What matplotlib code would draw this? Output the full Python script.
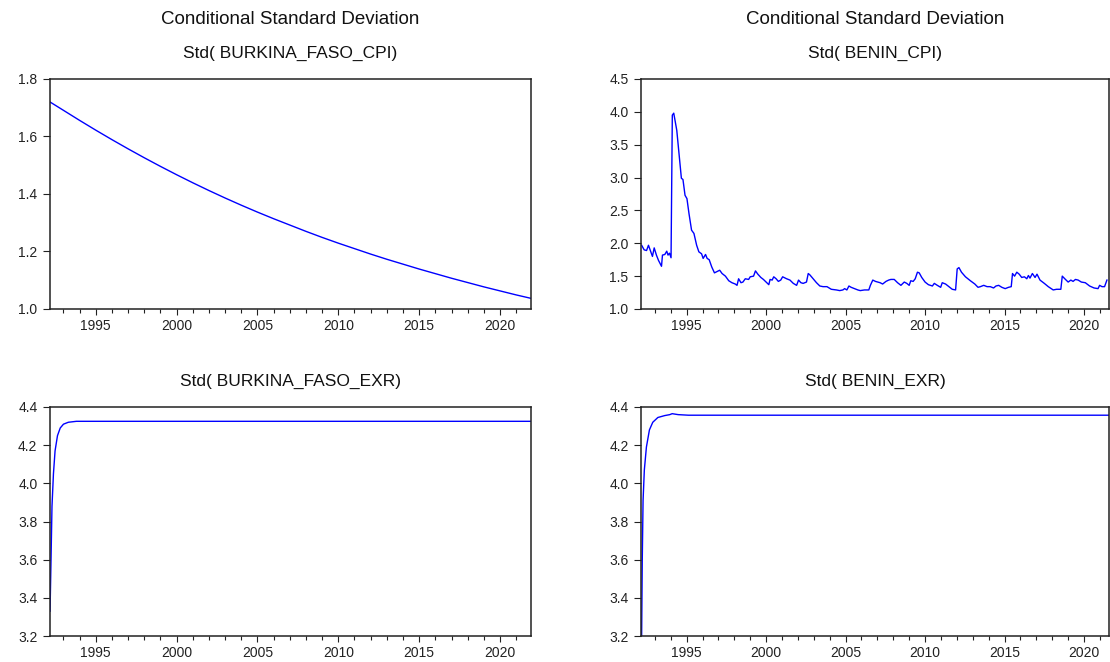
import matplotlib.pyplot as plt
from matplotlib.ticker import MultipleLocator, FormatStrFormatter

# ------------------------ #
# DATA (decimal years)
# ------------------------ #

bf_cpi_t = [1992.17, 1993, 1994, 1995, 1996, 1997, 1998, 1999, 2000, 2001,
            2002, 2003, 2004, 2005, 2006, 2007, 2008, 2009, 2010, 2011,
            2012, 2013, 2014, 2015, 2016, 2017, 2018, 2019, 2020, 2021, 2021.92]
bf_cpi = [1.72, 1.691, 1.656, 1.622, 1.589, 1.557, 1.526, 1.496, 1.467, 1.439,
          1.412, 1.386, 1.361, 1.337, 1.314, 1.292, 1.270, 1.249, 1.229, 1.210,
          1.191, 1.173, 1.156, 1.139, 1.123, 1.107, 1.092, 1.077, 1.063, 1.049, 1.037]

bj_cpi_t = [1992.17, 1992.33, 1992.48, 1992.60, 1992.75, 1992.85, 1992.96, 1993.10,
            1993.23, 1993.42, 1993.48, 1993.63, 1993.75, 1993.83, 1993.92, 1994.02,
            1994.10, 1994.19, 1994.38, 1994.52, 1994.67, 1994.77, 1994.90, 1995.02,
            1995.15, 1995.31, 1995.46, 1995.63, 1995.77, 1995.94, 1996.04, 1996.19,
            1996.29, 1996.42, 1996.58, 1996.75, 1996.92, 1997.08, 1997.23, 1997.44,
            1997.65, 1997.85, 1998.06, 1998.17, 1998.27, 1998.42, 1998.54, 1998.69,
            1998.90, 1999.00, 1999.21, 1999.33, 1999.48, 1999.67, 1999.83, 2000.04,
            2000.17, 2000.25, 2000.38, 2000.48, 2000.63, 2000.77, 2000.92, 2001.04,
            2001.29, 2001.50, 2001.71, 2001.92, 2002.04, 2002.19, 2002.33, 2002.54,
            2002.65, 2002.75, 2002.96, 2003.17, 2003.38, 2003.58, 2003.83, 2004.10,
            2004.42, 2004.63, 2004.83, 2004.94, 2005.08, 2005.21, 2005.35, 2005.56,
            2005.77, 2005.92, 2006.19, 2006.46, 2006.56, 2006.71, 2006.88, 2007.02,
            2007.17, 2007.33, 2007.54, 2007.71, 2007.85, 2008.06, 2008.27, 2008.48,
            2008.69, 2008.85, 2009.00, 2009.10, 2009.25, 2009.38, 2009.52, 2009.63,
            2009.79, 2010.00, 2010.21, 2010.46, 2010.58, 2010.77, 2010.98, 2011.08,
            2011.29, 2011.50, 2011.71, 2011.92, 2012.02, 2012.13, 2012.29, 2012.54,
            2012.85, 2013.13, 2013.33, 2013.48, 2013.69, 2013.90, 2014.10, 2014.31,
            2014.46, 2014.63, 2014.83, 2015.04, 2015.25, 2015.42, 2015.50, 2015.63,
            2015.77, 2015.92, 2016.08, 2016.25, 2016.40, 2016.50, 2016.60, 2016.75,
            2016.92, 2017.04, 2017.23, 2017.50, 2017.75, 2018.06, 2018.27, 2018.54,
            2018.63, 2018.79, 2019.00, 2019.17, 2019.31, 2019.46, 2019.63, 2019.83,
            2020.08, 2020.35, 2020.63, 2020.88, 2020.98, 2021.13, 2021.29, 2021.44]
bj_cpi = [1.97, 1.90, 1.89, 1.97, 1.87, 1.80, 1.93, 1.82,
          1.74, 1.65, 1.82, 1.83, 1.88, 1.82, 1.85, 1.78,
          3.95, 3.98, 3.72, 3.37, 2.99, 2.97, 2.73, 2.68,
          2.45, 2.20, 2.15, 1.97, 1.87, 1.84, 1.77, 1.83,
          1.77, 1.75, 1.64, 1.55, 1.57, 1.59, 1.54, 1.50,
          1.43, 1.40, 1.38, 1.36, 1.46, 1.40, 1.41, 1.46,
          1.45, 1.49, 1.50, 1.58, 1.53, 1.48, 1.45, 1.40,
          1.37, 1.45, 1.44, 1.49, 1.46, 1.42, 1.44, 1.49,
          1.46, 1.44, 1.39, 1.36, 1.44, 1.40, 1.39, 1.41,
          1.54, 1.52, 1.46, 1.40, 1.35, 1.34, 1.34, 1.30,
          1.29, 1.28, 1.29, 1.31, 1.29, 1.35, 1.33, 1.31,
          1.29, 1.28, 1.29, 1.29, 1.36, 1.44, 1.42, 1.41,
          1.40, 1.38, 1.42, 1.44, 1.45, 1.45, 1.40, 1.36,
          1.41, 1.39, 1.36, 1.43, 1.42, 1.46, 1.56, 1.55,
          1.48, 1.41, 1.37, 1.35, 1.39, 1.36, 1.33, 1.40,
          1.38, 1.34, 1.30, 1.29, 1.61, 1.63, 1.56, 1.49,
          1.43, 1.38, 1.33, 1.34, 1.36, 1.34, 1.34, 1.32,
          1.35, 1.36, 1.33, 1.31, 1.33, 1.34, 1.54, 1.50,
          1.56, 1.53, 1.48, 1.49, 1.46, 1.51, 1.47, 1.54,
          1.48, 1.53, 1.44, 1.39, 1.34, 1.29, 1.30, 1.30,
          1.50, 1.46, 1.41, 1.44, 1.42, 1.45, 1.44, 1.41,
          1.40, 1.35, 1.32, 1.31, 1.36, 1.34, 1.34, 1.44]

bf_exr_t = [1992.17, 1992.23, 1992.29, 1992.38, 1992.48, 1992.63, 1992.80,
            1993.00, 1993.30, 1993.80, 2021.92]
bf_exr = [3.33, 3.60, 3.88, 4.05, 4.17, 4.25, 4.29, 4.31, 4.32, 4.325, 4.325]

bj_exr_t = [1992.17, 1992.21, 1992.26, 1992.34, 1992.47, 1992.66, 1992.87,
            1993.19, 1993.62, 1993.94, 1994.09, 1994.47, 1995.11, 2021.92]
bj_exr = [3.20, 3.60, 3.91, 4.07, 4.19, 4.28, 4.32, 4.345, 4.355, 4.36,
          4.365, 4.36, 4.357, 4.357]

panels = [
    ("Std( BURKINA_FASO_CPI)", bf_cpi_t, bf_cpi, (1.0, 1.8), 0.2),
    ("Std( BENIN_CPI)", bj_cpi_t, bj_cpi, (1.0, 4.5), 0.5),
    ("Std( BURKINA_FASO_EXR)", bf_exr_t, bf_exr, (3.2, 4.4), 0.2),
    ("Std( BENIN_EXR)", bj_exr_t, bj_exr, (3.2, 4.4), 0.2),
]

# ------------------------ #
# PLOTTING
# ------------------------ #

W, H = 1110, 662
plt.rcParams['font.family'] = ['Liberation Sans', 'DejaVu Sans']
fig = plt.figure(figsize=(W / 100, H / 100), dpi=100)

# axes boxes in pixels: left, top, right, bottom
boxes = [(50, 79, 531, 309), (641, 79, 1109, 309),
         (50, 407, 531, 636), (641, 407, 1109, 636)]
xlims = [(1992.167, 2021.917), (1992.13, 2021.57),
         (1992.167, 2021.917), (1992.13, 2021.57)]
sub_y = [53, 53, 381, 381]

for (title, t, v, ylim, step), (l, tp, r, b), xl, sy in zip(
        panels, boxes, xlims, sub_y):
    ax = fig.add_axes([l / W, 1 - b / H, (r - l) / W, (b - tp) / H])
    ax.plot(t, v, color="#0000ff", lw=1.0)
    ax.set_xlim(xl)
    ax.set_ylim(ylim)
    ax.xaxis.set_major_locator(MultipleLocator(5))
    ax.xaxis.set_minor_locator(MultipleLocator(1))
    ax.yaxis.set_major_locator(MultipleLocator(step))
    ax.yaxis.set_major_formatter(FormatStrFormatter("%.1f"))
    ax.tick_params(which="both", direction="out", width=0.8,
                   labelsize=10, colors="#222222", top=False, right=False)
    ax.tick_params(axis="y", length=5, pad=4)
    ax.tick_params(axis="x", which="major", length=4, pad=3)
    ax.tick_params(axis="x", which="minor", length=3)
    for s in ax.spines.values():
        s.set_linewidth(1.1)
        s.set_color("#222222")
    fig.text((l + r) / 2 / W, 1 - sy / H, title, ha="center", va="center",
             fontsize=12.5, color="#111111")

    if tp < 100:
        fig.text((l + r) / 2 / W, 1 - 19 / H, "Conditional Standard Deviation",
                 ha="center", va="center", fontsize=13.5, color="#111111")

fig.savefig("out.png", dpi=100)
